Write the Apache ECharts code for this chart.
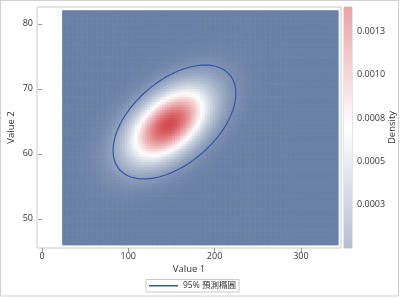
<!DOCTYPE html>
<html>
<head>
<meta charset="utf-8">
<script src="https://cdn.jsdelivr.net/npm/echarts@6/dist/echarts.min.js"></script>
<style>html,body{margin:0;padding:0;background:#fff}#c{width:400px;height:300px}</style>
</head>
<body>
<div id="c"></div>
<script>
// Values
const xTicks = [0, 100, 200, 300];
const yTicks = [50, 60, 70, 80];
const densityTicks = [0.00025, 0.0005, 0.00075, 0.001, 0.00125];
const xRange = [-5.8, 346.5];
const yRange = [45.5, 82.6];
const densityRange = [0, 0.00139];
// fitted density surface
const heatCenter = [147, 64.6];
const heatSd = [33, 4.05];
const heatRho = [0.5];
const heatXRange = [23.3, 343];
const heatYRange = [46, 82.1];
const heatCells = [110, 90];
// 95% prediction ellipse
const ellipseCenter = [153.5, 64.9];
const ellipseHalf = [71.2, 8.77];
const ellipseRho = [0.5];
const legendName = '95% 預測橢圓';

const FONT = "'Open Sans','Noto Sans CJK TC',sans-serif";

// density grid
const heatData = [];
const dx = (heatXRange[1] - heatXRange[0]) / heatCells[0];
const dy = (heatYRange[1] - heatYRange[0]) / heatCells[1];
const r = heatRho[0];
const norm = 1 / (2 * Math.PI * heatSd[0] * heatSd[1] * Math.sqrt(1 - r * r));
for (let i = 0; i < heatCells[0]; i++) {
  for (let j = 0; j < heatCells[1]; j++) {
    const x = heatXRange[0] + (i + 0.5) * dx;
    const y = heatYRange[0] + (j + 0.5) * dy;
    const zx = (x - heatCenter[0]) / heatSd[0];
    const zy = (y - heatCenter[1]) / heatSd[1];
    const q = (zx * zx - 2 * r * zx * zy + zy * zy) / (1 - r * r);
    heatData.push([x, y, norm * Math.exp(-q / 2)]);
  }
}
// ellipse outline
const ellipseData = [];
const er = ellipseRho[0];
for (let k = 0; k <= 180; k++) {
  const t = k / 180 * 2 * Math.PI;
  ellipseData.push([
    ellipseCenter[0] + ellipseHalf[0] * Math.cos(t),
    ellipseCenter[1] + ellipseHalf[1] * (er * Math.cos(t) + Math.sqrt(1 - er * er) * Math.sin(t))
  ]);
}

const chart = echarts.init(document.getElementById('c'), null, {renderer: 'canvas'});
const axisLabelStyle = {color: '#333', fontSize: 9, fontFamily: FONT};
chart.setOption({
  animation: false,
  textStyle: {fontFamily: FONT},
  graphic: [{
    type: 'rect', silent: true, z: -10,
    shape: {x: 0.5, y: 0.5, width: 398, height: 295.5},
    style: {fill: 'none', stroke: '#cfcfcf', lineWidth: 1}
  }],
  grid: [
    {left: 37, right: 59, top: 7, bottom: 52, show: true, borderColor: '#c8c8c8', borderWidth: 1, backgroundColor: '#fff', containLabel: false, outerBoundsMode: 'none'},
    {left: 344, right: 48, top: 7, bottom: 52, show: true, borderColor: '#c8c8c8', borderWidth: 1, containLabel: false, outerBoundsMode: 'none'}
  ],
  xAxis: [
    {
      type: 'value', gridIndex: 0, min: xRange[0], max: xRange[1],
      name: 'Value 1', nameLocation: 'middle', nameGap: 17, nameMoveOverlap: false,
      nameTextStyle: {color: '#333', fontSize: 9.5, fontFamily: FONT},
      axisLine: {show: false}, splitLine: {show: false},
      axisTick: {show: true, length: 4, customValues: xTicks, lineStyle: {color: '#999'}},
      axisLabel: Object.assign({customValues: xTicks, margin: 4}, axisLabelStyle)
    },
    {type: 'value', gridIndex: 1, min: 0, max: 1, show: false}
  ],
  yAxis: [
    {
      type: 'value', gridIndex: 0, min: yRange[0], max: yRange[1],
      name: 'Value 2', nameLocation: 'middle', nameGap: 21, nameRotate: 90, nameMoveOverlap: false,
      nameTextStyle: {color: '#333', fontSize: 9.5, fontFamily: FONT},
      axisLine: {show: false}, splitLine: {show: false},
      axisTick: {show: true, length: 4, customValues: yTicks, lineStyle: {color: '#999'}},
      axisLabel: Object.assign({customValues: yTicks, margin: 4}, axisLabelStyle)
    },
    {
      type: 'value', gridIndex: 1, position: 'right', min: densityRange[0], max: densityRange[1],
      name: 'Density', nameLocation: 'middle', nameGap: 36, nameRotate: 90, nameMoveOverlap: false,
      nameTextStyle: {color: '#333', fontSize: 9.5, fontFamily: FONT},
      axisLine: {show: false}, splitLine: {show: false},
      axisTick: {show: true, length: 4, customValues: densityTicks, lineStyle: {color: '#999'}},
      axisLabel: Object.assign({customValues: densityTicks, margin: 5, formatter: v => v.toFixed(4)}, axisLabelStyle)
    }
  ],
  visualMap: [{
    type: 'continuous', show: false, seriesIndex: 0, dimension: 2,
    min: densityRange[0], max: densityRange[1],
    inRange: {color: ['#6a80a6', '#ffffff', '#d4474d']}
  }],
  legend: {
    bottom: 8, left: 146,
    data: [legendName],
    icon: 'rect', itemWidth: 29, itemHeight: 1.5, itemGap: 6,
    borderColor: '#c8c8c8', borderWidth: 1, padding: [2, 3],
    textStyle: {color: '#333', fontSize: 8.5, fontFamily: FONT}
  },
  series: [
    {
      type: 'custom', xAxisIndex: 0, yAxisIndex: 0, silent: true,
      dimensions: ['x', 'y', 'density'], encode: {x: 0, y: 1},
      data: heatData,
      renderItem: function (params, api) {
        const x = api.value(0), y = api.value(1);
        const p0 = api.coord([x - dx / 2, y + dy / 2]);
        const p1 = api.coord([x + dx / 2, y - dy / 2]);
        return {
          type: 'rect',
          shape: {x: p0[0], y: p0[1], width: p1[0] - p0[0] + 0.6, height: p1[1] - p0[1] + 0.6},
          style: {fill: api.visual('color')}
        };
      }
    },
    {
      type: 'line', name: legendName, xAxisIndex: 0, yAxisIndex: 0,
      data: ellipseData, showSymbol: false, symbol: 'none', smooth: false, z: 5,
      itemStyle: {color: '#3355a6'},
      lineStyle: {color: '#3355a6', width: 1.2}
    },
    {
      type: 'custom', xAxisIndex: 1, yAxisIndex: 1, silent: true,
      data: [[0, densityRange[0]]],
      renderItem: function (params, api) {
        const p0 = api.coord([0, densityRange[1]]);
        const p1 = api.coord([1, densityRange[0]]);
        return {
          type: 'rect',
          shape: {x: p0[0], y: p0[1], width: p1[0] - p0[0], height: p1[1] - p0[1]},
          style: {fill: new echarts.graphic.LinearGradient(0, 1, 0, 0, [
            {offset: 0, color: '#b4bfd2'},
            {offset: 0.5, color: '#ffffff'},
            {offset: 1, color: '#eaa3a6'}
          ])}
        };
      }
    }
  ]
});
</script>
</body>
</html>
